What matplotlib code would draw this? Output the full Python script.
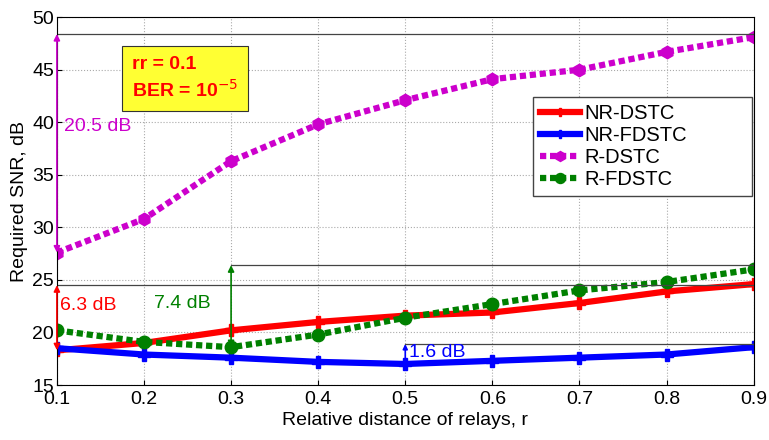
import numpy as np
import matplotlib.pyplot as plt
import matplotlib as mpl

mpl.rcParams.update({
    "font.family": ["Liberation Sans", "DejaVu Sans"],
    "font.size": 14,
    "xtick.direction": "in",
    "ytick.direction": "in",
    "xtick.major.pad": 4,
    "ytick.major.pad": 2,
})

# Data
r = [0.1, 0.2, 0.3, 0.4, 0.5, 0.6, 0.7, 0.8, 0.9]
nr_dstc = [18.3, 19.0, 20.2, 21.0, 21.6, 21.9, 22.8, 23.9, 24.6]
nr_fdstc = [18.5, 17.9, 17.6, 17.2, 17.0, 17.3, 17.6, 17.9, 18.6]
r_dstc = [27.6, 30.8, 36.3, 39.8, 42.1, 44.1, 45.0, 46.7, 48.1]
r_fdstc = [20.2, 19.1, 18.6, 19.8, 21.4, 22.7, 24.0, 24.8, 26.0]

fig = plt.figure(figsize=(7.69, 4.40), dpi=100)
ax = fig.add_axes([0.074, 0.125, 0.906, 0.836])

dots = (0, (1, 0.6))
ax.plot(r, nr_dstc, color="red", lw=4.5, marker="P", ms=8, label="NR-DSTC")
ax.plot(r, nr_fdstc, color="blue", lw=4.5, marker="P", ms=8, label="NR-FDSTC")
ax.plot(r, r_dstc, color="#cc00cc", lw=4.5, ls=dots, marker="h", ms=9, label="R-DSTC")
ax.plot(r, r_fdstc, color="#008000", lw=4.5, ls=dots, marker="o", ms=9, label="R-FDSTC")

# reference lines
ax.plot([0.1, 0.9], [48.4, 48.4], color="#444444", lw=0.9)
ax.plot([0.3, 0.9], [26.4, 26.4], color="#444444", lw=0.9)
ax.plot([0.1, 0.9], [24.5, 24.5], color="#444444", lw=0.9)
ax.plot([0.5, 0.9], [18.9, 18.9], color="#444444", lw=0.9)

# gap arrows
arr = dict(arrowstyle="<|-|>", lw=1.2, mutation_scale=9, shrinkA=0, shrinkB=0)
ax.annotate("", xy=(0.1, 48.4), xytext=(0.1, 27.6), arrowprops=dict(arr, color="#cc00cc"))
ax.annotate("", xy=(0.1, 24.5), xytext=(0.1, 18.3), arrowprops=dict(arr, color="red"))
ax.annotate("", xy=(0.3, 26.4), xytext=(0.3, 18.6), arrowprops=dict(arr, color="#008000"))
ax.annotate("", xy=(0.5, 18.9), xytext=(0.5, 17.0),
            arrowprops=dict(arrowstyle="-|>", lw=1.2, mutation_scale=7, color="blue",
                            shrinkA=0, shrinkB=0))

ax.text(0.1085, 39.6, "20.5 dB", color="#cc00cc", fontsize=14, va="center")
ax.text(0.104, 22.6, "6.3 dB", color="red", fontsize=14, va="center")
ax.text(0.212, 22.8, "7.4 dB", color="#008000", fontsize=14, va="center")
ax.text(0.5045, 18.1, "1.6 dB", color="blue", fontsize=14, va="center")

ax.text(0.108, 0.895, "rr = 0.1\nBER = 10$^{-5}$", transform=ax.transAxes, color="red",
        fontsize=14, fontweight="bold", va="top", linespacing=1.35,
        bbox=dict(boxstyle="square,pad=0.5", facecolor="#ffff33", edgecolor="#333333", lw=0.8))

ax.set_xlim(0.1, 0.9)
ax.set_ylim(15, 50)
ax.set_xticks(r)
ax.set_yticks([15, 20, 25, 30, 35, 40, 45, 50])
ax.grid(True, ls=":", color="#aaaaaa", lw=0.8)
ax.set_xlabel("Relative distance of relays, r", labelpad=3)
ax.set_ylabel("Required SNR, dB", labelpad=3)
ax.legend(loc="upper left", bbox_to_anchor=(0.683, 0.783, 0.314, 0.0), mode="expand",
          fancybox=False, edgecolor="#444444", framealpha=1, handlelength=2.0,
          handletextpad=0.2, fontsize=14.5, borderaxespad=0.0, labelspacing=0.15,
          borderpad=0.35, markerscale=0.8)

fig.savefig("out.png", dpi=100)
